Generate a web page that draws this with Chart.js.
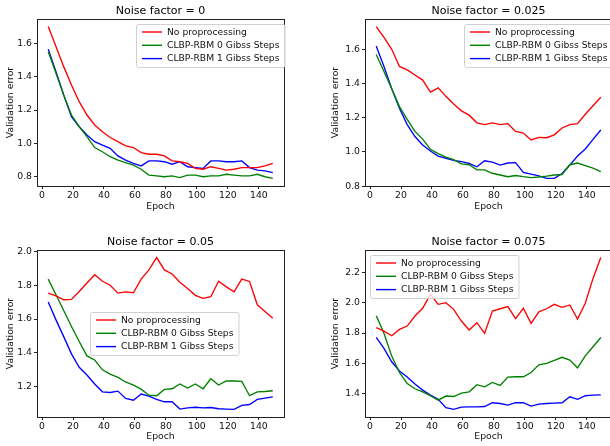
<!DOCTYPE html>
<html>
<head>
<meta charset="utf-8">
<script src="https://cdn.jsdelivr.net/npm/chart.js@4.4.0/dist/chart.umd.min.js"></script>
<style>
  html, body { margin: 0; padding: 0; background: #fff; overflow: hidden; width: 610px; height: 446px; position: relative; }
  canvas { position: absolute; }
</style>
</head>
<body>
<canvas id="c1" width="305" height="223" style="left:0;top:0"></canvas>
<canvas id="c2" width="310" height="223" style="left:305px;top:0"></canvas>
<canvas id="c3" width="305" height="223" style="left:0;top:223px"></canvas>
<canvas id="c4" width="310" height="223" style="left:305px;top:223px"></canvas>
<script>
// epochs sampled every 5
const epochs = [4, 9, 14, 19, 24, 29, 34, 39, 44, 49, 54, 59, 64, 69, 74, 79, 84, 89, 94, 99, 104, 109, 114, 119, 124, 129, 134, 139, 144, 149];
const seriesNames = ['No proprocessing', 'CLBP-RBM 0 Gibss Steps', 'CLBP-RBM 1 Gibss Steps'];
const xTicks = [0, 20, 40, 60, 80, 100, 120, 140];

// noise factor = 0
const noise0Raw = [1.70, 1.58, 1.46, 1.35, 1.25, 1.17, 1.11, 1.07, 1.035, 1.01, 0.985, 0.975, 0.945, 0.935, 0.935, 0.925, 0.895, 0.89, 0.88, 0.85, 0.845, 0.86, 0.85, 0.84, 0.845, 0.855, 0.855, 0.855, 0.865, 0.88];
const noise0Rbm0 = [1.55, 1.42, 1.29, 1.17, 1.10, 1.04, 0.975, 0.95, 0.92, 0.90, 0.885, 0.87, 0.845, 0.81, 0.805, 0.80, 0.805, 0.795, 0.81, 0.81, 0.80, 0.805, 0.805, 0.815, 0.81, 0.805, 0.805, 0.815, 0.80, 0.79];
const noise0Rbm1 = [1.565, 1.43, 1.29, 1.16, 1.10, 1.05, 1.01, 0.99, 0.97, 0.925, 0.90, 0.88, 0.865, 0.895, 0.895, 0.89, 0.875, 0.89, 0.86, 0.855, 0.85, 0.895, 0.895, 0.89, 0.89, 0.895, 0.855, 0.84, 0.835, 0.825];
const noise0Ticks = [0.8, 1.0, 1.2, 1.4, 1.6];

// noise factor = 0.025
const noise1Raw = [1.733, 1.67, 1.60, 1.50, 1.48, 1.45, 1.42, 1.35, 1.375, 1.325, 1.28, 1.24, 1.215, 1.17, 1.16, 1.17, 1.16, 1.165, 1.12, 1.11, 1.07, 1.085, 1.083, 1.10, 1.14, 1.16, 1.165, 1.22, 1.27, 1.32];
const noise1Rbm0 = [1.57, 1.47, 1.37, 1.265, 1.19, 1.12, 1.075, 1.015, 0.99, 0.97, 0.955, 0.93, 0.925, 0.895, 0.895, 0.875, 0.865, 0.855, 0.862, 0.855, 0.85, 0.853, 0.858, 0.865, 0.868, 0.925, 0.935, 0.92, 0.905, 0.885];
const noise1Rbm1 = [1.62, 1.50, 1.37, 1.255, 1.16, 1.09, 1.04, 1.005, 0.975, 0.962, 0.95, 0.943, 0.933, 0.913, 0.948, 0.94, 0.923, 0.935, 0.937, 0.88, 0.87, 0.86, 0.845, 0.845, 0.874, 0.923, 0.976, 1.017, 1.073, 1.128];
const noise1Ticks = [0.8, 1.0, 1.2, 1.4, 1.6];

// noise factor = 0.05
const noise2Raw = [1.753, 1.737, 1.714, 1.716, 1.763, 1.813, 1.862, 1.823, 1.80, 1.753, 1.76, 1.755, 1.836, 1.89, 1.963, 1.89, 1.866, 1.817, 1.78, 1.74, 1.722, 1.732, 1.823, 1.79, 1.761, 1.836, 1.822, 1.684, 1.645, 1.605];
const noise2Rbm0 = [1.836, 1.743, 1.65, 1.556, 1.467, 1.382, 1.358, 1.30, 1.275, 1.255, 1.228, 1.21, 1.186, 1.15, 1.147, 1.184, 1.188, 1.216, 1.192, 1.216, 1.188, 1.247, 1.21, 1.234, 1.234, 1.232, 1.147, 1.17, 1.172, 1.176];
const noise2Rbm1 = [1.70, 1.595, 1.496, 1.394, 1.315, 1.269, 1.216, 1.17, 1.166, 1.174, 1.131, 1.12, 1.157, 1.145, 1.125, 1.111, 1.111, 1.068, 1.075, 1.079, 1.075, 1.077, 1.07, 1.068, 1.066, 1.09, 1.095, 1.125, 1.133, 1.14];
const noise2Ticks = [1.2, 1.4, 1.6, 1.8, 2.0];

// noise factor = 0.075
const noise3Raw = [1.835, 1.813, 1.782, 1.824, 1.846, 1.912, 1.963, 2.055, 1.989, 2.0, 1.956, 1.879, 1.82, 1.868, 1.798, 1.945, 1.96, 1.974, 1.895, 1.963, 1.864, 1.94, 1.96, 1.989, 1.969, 1.985, 1.892, 1.996, 2.16, 2.297];
const noise3Rbm0 = [1.914, 1.798, 1.648, 1.54, 1.468, 1.433, 1.413, 1.387, 1.358, 1.385, 1.382, 1.404, 1.413, 1.46, 1.446, 1.475, 1.455, 1.51, 1.512, 1.512, 1.54, 1.591, 1.60, 1.62, 1.64, 1.622, 1.571, 1.65, 1.71, 1.771];
const noise3Rbm1 = [1.771, 1.699, 1.611, 1.55, 1.51, 1.464, 1.424, 1.391, 1.363, 1.308, 1.297, 1.312, 1.314, 1.314, 1.316, 1.341, 1.336, 1.325, 1.341, 1.341, 1.319, 1.332, 1.336, 1.338, 1.341, 1.38, 1.363, 1.387, 1.391, 1.393];
const noise3Ticks = [1.4, 1.6, 1.8, 2.0, 2.2];

const colors = ['#ff0000', '#008000', '#0000ff'];
const FONT = 'DejaVu Sans';

const decor = {
  id: 'decor',
  afterDraw(chart, args, o) {
    const { ctx, chartArea: a } = chart;
    ctx.save();
    // frame
    ctx.strokeStyle = '#222';
    ctx.lineWidth = 1;
    ctx.strokeRect(Math.round(a.left) + 0.5, Math.round(a.top) + 0.5, Math.round(a.right - a.left), Math.round(a.bottom - a.top));
    // title
    ctx.fillStyle = '#000';
    ctx.font = '11px "' + FONT + '"';
    ctx.textAlign = 'center';
    ctx.textBaseline = 'middle';
    ctx.fillText(o.title, (a.left + a.right) / 2, a.top - 7.5);
    // legend
    ctx.font = '9.2px "' + FONT + '"';
    let tw = 0;
    chart.data.datasets.forEach(d => { tw = Math.max(tw, ctx.measureText(d.label).width); });
    const bx = o.legend[0], by = o.legend[1];
    const bw = tw + 36, bh = 43;
    ctx.beginPath();
    ctx.roundRect(bx + 0.5, by + 0.5, bw, bh, 2);
    ctx.fillStyle = 'rgba(255,255,255,0.8)';
    ctx.fill();
    ctx.strokeStyle = '#d0d0d0';
    ctx.stroke();
    ctx.textAlign = 'left';
    chart.data.datasets.forEach((d, i) => {
      const y = by + 8 + i * 13.3;
      ctx.strokeStyle = d.borderColor;
      ctx.lineWidth = 1.4;
      ctx.beginPath();
      ctx.moveTo(bx + 6, y);
      ctx.lineTo(bx + 26, y);
      ctx.stroke();
      ctx.fillStyle = '#111';
      ctx.fillText(d.label, bx + 31, y + 0.5);
    });
    ctx.restore();
  }
};

function makeChart(id, title, seriesList, yTicks, cfg) {
  const all = seriesList.flat();
  const dmin = Math.min(...all), dmax = Math.max(...all);
  const m = (dmax - dmin) * 0.05;
  const xm = (epochs[epochs.length - 1] - epochs[0]) * 0.05;
  new Chart(document.getElementById(id), {
    type: 'line',
    data: {
      datasets: seriesList.map((vals, i) => ({
        label: seriesNames[i],
        data: epochs.map((e, j) => ({ x: e, y: vals[j] })),
        borderColor: colors[i],
        borderWidth: 1.35,
        pointRadius: 0,
        tension: 0,
        fill: false
      }))
    },
    options: {
      responsive: false,
      animation: false,
      devicePixelRatio: 1,
      layout: { padding: { left: cfg.padLeft, top: cfg.padTop, right: cfg.padRight, bottom: 0 } },
      plugins: {
        legend: { display: false },
        tooltip: { enabled: false },
        decor: { title: title, legend: cfg.legend }
      },
      scales: {
        x: {
          type: 'linear',
          min: epochs[0] - xm,
          max: epochs[epochs.length - 1] + xm,
          afterBuildTicks: ax => { ax.ticks = xTicks.map(v => ({ value: v })); },
          afterFit: ax => { ax.height = cfg.xHeight; },
          grid: { display: true, drawOnChartArea: false, tickLength: 3, color: '#222' },
          border: { display: false },
          ticks: { font: { family: FONT, size: 9.3 }, color: '#111', padding: 1, maxRotation: 0, autoSkip: false },
          title: { display: true, text: 'Epoch', font: { family: FONT, size: 9.3 }, color: '#111', padding: { top: 0, bottom: cfg.xTitlePad } }
        },
        y: {
          min: dmin - m,
          max: dmax + m,
          afterBuildTicks: ax => { ax.ticks = yTicks.map(v => ({ value: v })); },
          afterFit: ax => { ax.width = 37; },
          grid: { display: true, drawOnChartArea: false, tickLength: 3, color: '#222' },
          border: { display: false },
          ticks: { font: { family: FONT, size: 9.3 }, color: '#111', padding: 2, callback: v => v.toFixed(1) },
          title: { display: true, text: 'Validation error', font: { family: FONT, size: 9.3 }, color: '#111', padding: { top: cfg.yTitlePad, bottom: 0 } }
        }
      }
    },
    plugins: [decor]
  });
}

makeChart('c1', 'Noise factor = 0', [noise0Raw, noise0Rbm0, noise0Rbm1], noise0Ticks,
  { padLeft: 0, padTop: 19, padRight: 21, xHeight: 37, xTitlePad: 11, yTitlePad: 5.5, legend: [136, 24] });
makeChart('c2', 'Noise factor = 0.025', [noise1Raw, noise1Rbm0, noise1Rbm1], noise1Ticks,
  { padLeft: 23, padTop: 19, padRight: 3, xHeight: 37, xTitlePad: 11, yTitlePad: 2.5, legend: [159, 24] });
makeChart('c3', 'Noise factor = 0.05', [noise2Raw, noise2Rbm0, noise2Rbm1], noise2Ticks,
  { padLeft: 0, padTop: 27, padRight: 21, xHeight: 29, xTitlePad: 4, yTitlePad: 5.5, legend: [90, 89] });
makeChart('c4', 'Noise factor = 0.075', [noise3Raw, noise3Rbm0, noise3Rbm1], noise3Ticks,
  { padLeft: 23, padTop: 27, padRight: 3, xHeight: 29, xTitlePad: 4, yTitlePad: 2.5, legend: [65, 32] });
</script>
</body>
</html>
